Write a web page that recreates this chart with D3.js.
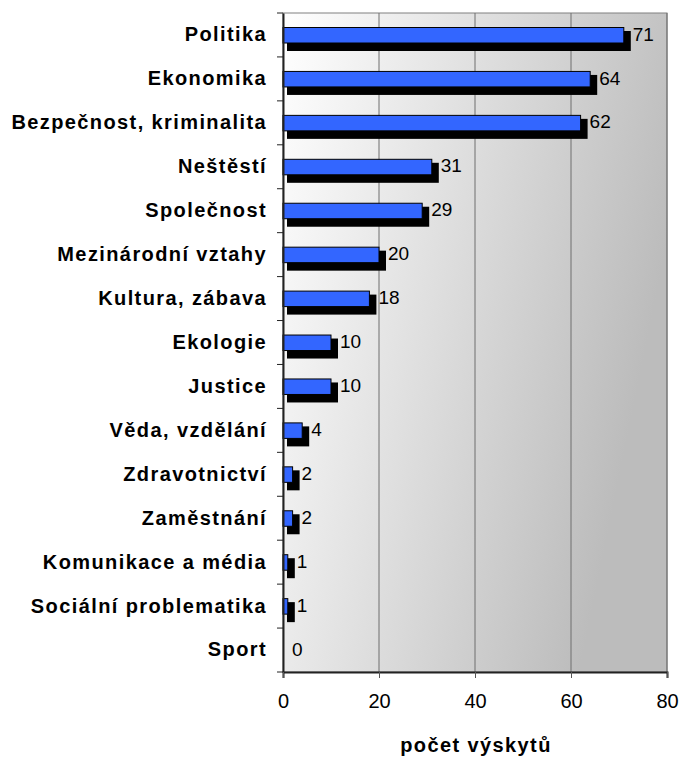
<!DOCTYPE html>
<html>
<head>
<meta charset="utf-8">
<script src="https://cdn.jsdelivr.net/npm/d3@7"></script>
<style>
  body { margin: 0; background: #fff; }
  text { font-family: "Liberation Sans", Arial, sans-serif; }
</style>
</head>
<body>
<div id="chart"></div>
<script>
const categories = ['Politika', 'Ekonomika', 'Bezpečnost, kriminalita', 'Neštěstí', 'Společnost',
  'Mezinárodní vztahy', 'Kultura, zábava', 'Ekologie', 'Justice', 'Věda, vzdělání',
  'Zdravotnictví', 'Zaměstnání', 'Komunikace a média', 'Sociální problematika', 'Sport'];
const counts = [71, 64, 62, 31, 29, 20, 18, 10, 10, 4, 2, 2, 1, 1, 0];
const xTicks = [0, 20, 40, 60, 80];
const xTitle = 'počet výskytů';

const width = 681, height = 758;
const margin = {top: 13, right: 14, bottom: 86, left: 283};

const svg = d3.select('#chart').append('svg')
  .attr('width', width)
  .attr('height', height);

const x = d3.scaleLinear().domain([0, 80]).range([margin.left, width - margin.right]);
const y = d3.scaleBand().domain(categories).range([margin.top, height - margin.bottom]);

// plot background gradient
const grad = svg.append('defs').append('linearGradient')
  .attr('id', 'bg')
  .attr('x1', 0).attr('y1', 0).attr('x2', 1).attr('y2', 0.35);
grad.append('stop').attr('offset', 0).attr('stop-color', '#ffffff');
grad.append('stop').attr('offset', 1).attr('stop-color', '#bcbcbc');

svg.append('rect')
  .attr('x', x(0)).attr('y', margin.top)
  .attr('width', x(80) - x(0)).attr('height', height - margin.bottom - margin.top)
  .attr('fill', 'url(#bg)')
  .attr('stroke', '#808080');

// gridlines
svg.append('g').selectAll('line')
  .data(xTicks.slice(1))
  .join('line')
  .attr('x1', d => x(d)).attr('x2', d => x(d))
  .attr('y1', margin.top).attr('y2', height - margin.bottom)
  .attr('stroke', '#6e6e6e');

// bars: shadow then blue bar
const bars = svg.append('g').selectAll('g')
  .data(categories.map((c, i) => ({c, v: counts[i]})))
  .join('g');

bars.filter(d => d.v > 0).append('rect')
  .attr('x', x(0) + 4)
  .attr('y', d => y(d.c) + 18)
  .attr('width', d => x(d.v) - x(0) + 3)
  .attr('height', 20)
  .attr('fill', '#000');

bars.filter(d => d.v > 0).append('rect')
  .attr('x', x(0))
  .attr('y', d => y(d.c) + 14.5)
  .attr('width', d => x(d.v) - x(0))
  .attr('height', 15.5)
  .attr('fill', '#3366ff')
  .attr('stroke', '#000')
  .attr('stroke-width', 1);

bars.append('text')
  .attr('x', d => x(d.v) + 9)
  .attr('y', d => y(d.c) + y.bandwidth() / 2 - 1)
  .attr('dy', '0.35em')
  .attr('font-size', 19)
  .attr('fill', '#000')
  .text(d => d.v);

// y axis
const yAxis = svg.append('g')
  .attr('transform', `translate(${x(0)},0)`)
  .call(d3.axisLeft(y).tickSize(0).tickPadding(16));
yAxis.select('.domain').attr('stroke', '#222').attr('stroke-width', 2);
yAxis.selectAll('text')
  .attr('font-size', 20)
  .attr('font-weight', 'bold')
  .attr('letter-spacing', '1.4px')
  .attr('fill', '#000');
// category boundary ticks
yAxis.append('g').selectAll('line')
  .data(categories.map(c => y(c)).concat([height - margin.bottom]))
  .join('line')
  .attr('x1', -6).attr('x2', 0)
  .attr('y1', d => d).attr('y2', d => d)
  .attr('stroke', '#222');

// x axis
const xAxis = svg.append('g')
  .attr('transform', `translate(0,${height - margin.bottom})`)
  .call(d3.axisBottom(x).tickValues(xTicks).tickSize(6).tickPadding(16));
xAxis.select('.domain').attr('stroke', '#222').attr('stroke-width', 2);
xAxis.selectAll('.tick line').attr('stroke', '#555');
xAxis.selectAll('text')
  .attr('font-size', 20)
  .attr('fill', '#000');

svg.append('text')
  .attr('x', (x(0) + x(80)) / 2 + 1)
  .attr('y', 752)
  .attr('text-anchor', 'middle')
  .attr('font-size', 20)
  .attr('font-weight', 'bold')
  .attr('letter-spacing', '1.4px')
  .text(xTitle);
</script>
</body>
</html>
